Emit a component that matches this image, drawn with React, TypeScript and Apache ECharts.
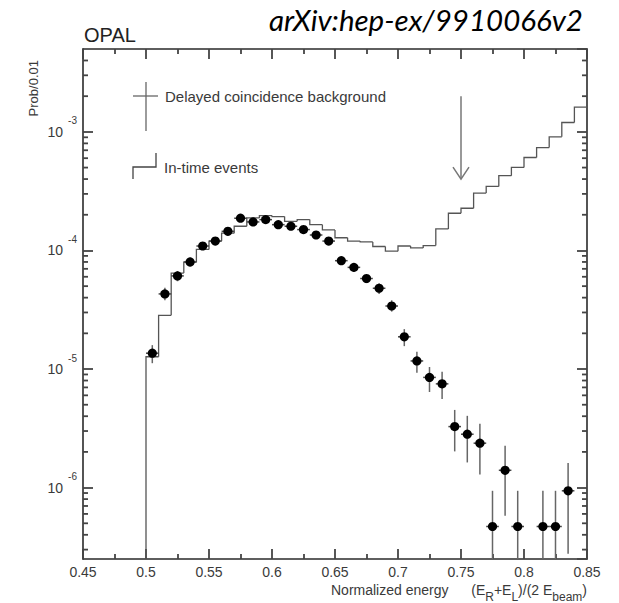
import React, { useEffect, useRef } from 'react';
import * as echarts from 'echarts';

// ---------- data ----------
// In-time events histogram: lower bin edges and contents (Prob/0.01)
const HIST_LOW_EDGES = [
  0.50, 0.51, 0.52, 0.53, 0.54, 0.55, 0.56, 0.57, 0.58, 0.59,
  0.60, 0.61, 0.62, 0.63, 0.64, 0.65, 0.66, 0.67, 0.68, 0.69,
  0.70, 0.71, 0.72, 0.73, 0.74, 0.75, 0.76, 0.77, 0.78, 0.79,
  0.80, 0.81, 0.82, 0.83, 0.84,
];
const HIST_VALUES = [
  1.27e-5, 2.84e-5, 6.44e-5, 7.97e-5, 1.02e-4, 1.20e-4, 1.40e-4, 1.60e-4, 1.88e-4, 1.97e-4,
  1.93e-4, 1.76e-4, 1.82e-4, 1.65e-4, 1.49e-4, 1.28e-4, 1.20e-4, 1.18e-4, 1.08e-4, 9.86e-5,
  1.09e-4, 1.05e-4, 1.10e-4, 1.52e-4, 2.06e-4, 2.27e-4, 3.05e-4, 3.47e-4, 4.27e-4, 5.01e-4,
  6.08e-4, 7.38e-4, 9.08e-4, 1.20e-3, 1.62e-3,
];
const BIN_WIDTH = 0.01;

// Delayed coincidence background: bin centres, values, error bar ends
const PT_X = [
  0.505, 0.515, 0.525, 0.535, 0.545, 0.555, 0.565, 0.575, 0.585, 0.595,
  0.605, 0.615, 0.625, 0.635, 0.645, 0.655, 0.665, 0.675, 0.685, 0.695,
  0.705, 0.715, 0.725, 0.735, 0.745, 0.755, 0.765, 0.775, 0.785, 0.795,
  0.815, 0.825, 0.835,
];
const PT_Y = [
  1.36e-5, 4.3e-5, 6.1e-5, 8.0e-5, 1.09e-4, 1.20e-4, 1.45e-4, 1.87e-4, 1.74e-4, 1.82e-4,
  1.65e-4, 1.60e-4, 1.50e-4, 1.35e-4, 1.20e-4, 8.2e-5, 7.2e-5, 5.8e-5, 4.8e-5, 3.4e-5,
  1.87e-5, 1.17e-5, 8.5e-6, 7.5e-6, 3.27e-6, 2.82e-6, 2.37e-6, 4.7e-7, 1.40e-6, 4.7e-7,
  4.7e-7, 4.7e-7, 9.4e-7,
];
const PT_ERR_LO = [
  1.12e-5, 3.8e-5, 5.5e-5, 7.3e-5, 1.01e-4, 1.12e-4, 1.36e-4, 1.77e-4, 1.65e-4, 1.73e-4,
  1.56e-4, 1.51e-4, 1.41e-4, 1.27e-4, 1.12e-4, 7.6e-5, 6.6e-5, 5.3e-5, 4.3e-5, 3.05e-5,
  1.56e-5, 9.3e-6, 6.4e-6, 5.6e-6, 2.02e-6, 1.63e-6, 1.29e-6, 0, 5.8e-7, 0,
  0, 0, 2.77e-7,
];
const PT_ERR_HI = [
  1.59e-5, 4.85e-5, 6.7e-5, 8.7e-5, 1.17e-4, 1.28e-4, 1.54e-4, 1.97e-4, 1.83e-4, 1.91e-4,
  1.74e-4, 1.69e-4, 1.59e-4, 1.43e-4, 1.28e-4, 8.8e-5, 7.8e-5, 6.3e-5, 5.3e-5, 3.8e-5,
  2.17e-5, 1.40e-5, 1.04e-5, 9.5e-6, 4.52e-6, 4.03e-6, 3.45e-6, 9.4e-7, 2.25e-6, 9.4e-7,
  9.4e-7, 9.4e-7, 1.61e-6,
];

// Arrow marking the cut (x, top, tip)
const ARROW = [[0.75, 2.0e-3, 4.0e-4]];

// Axis ranges / ticks
const X_MIN = 0.45;
const X_MAX = 0.85;
const X_INTERVAL = 0.05;
const Y_MIN = 2.5e-7;
const Y_MAX = 5e-3;
const MINOR_MULTIPLIERS = [2, 3, 4, 5, 6, 7, 8, 9];
const DECADES = [1e-7, 1e-6, 1e-5, 1e-4, 1e-3];

const LEGEND_TEXTS = ['Delayed coincidence background', 'In-time events'];
const Y_TITLE = 'Prob/0.01';

// ---------- styles ----------
const FONT = "'Liberation Sans', Arial, Helvetica, sans-serif";
const AXIS_COLOR = '#2a2a2a';
const TICK_COLOR = '#444444';
const TEXT_COLOR = '#3a3a3a';
const TICK_W = 1.8;

export default function App() {
  const ref = useRef<HTMLDivElement>(null);

  useEffect(() => {
    if (!ref.current) return;
    const chart = echarts.init(ref.current, undefined, { renderer: 'svg' });

    const minorY = DECADES.flatMap((d) => MINOR_MULTIPLIERS.map((m) => m * d)).filter(
      (v) => v > Y_MIN * 1.0001 && v < Y_MAX * 0.9999
    );

    const xAxisBase = (position: 'bottom' | 'top', showLabel: boolean) => ({
      type: 'value',
      position,
      min: X_MIN,
      max: X_MAX,
      interval: X_INTERVAL,
      axisLine: { show: true, onZero: false, lineStyle: { color: AXIS_COLOR, width: 1.6 } },
      axisTick: { show: true, inside: true, length: 10, lineStyle: { color: TICK_COLOR, width: TICK_W } },
      minorTick: { show: true, splitNumber: 2, length: 5, lineStyle: { color: TICK_COLOR, width: TICK_W } },
      splitLine: { show: false },
      minorSplitLine: { show: false },
      axisLabel: {
        show: showLabel,
        margin: 6,
        fontSize: 14,
        color: TEXT_COLOR,
        fontFamily: FONT,
      },
    });

    const yAxisBase = (position: 'left' | 'right', showLabel: boolean) => ({
      type: 'log',
      logBase: 10,
      position,
      min: Y_MIN,
      max: Y_MAX,
      axisLine: { show: true, onZero: false, lineStyle: { color: AXIS_COLOR, width: 1.6 } },
      axisTick: { show: true, inside: true, length: 10, lineStyle: { color: TICK_COLOR, width: TICK_W } },
      splitLine: { show: false },
      axisLabel: {
        show: showLabel,
        margin: 6,
        showMinLabel: false,
        showMaxLabel: false,
        formatter: (v: number) => {
          const e = Math.round(Math.log10(v));
          return `{b|10}{s|${e}}`;
        },
        rich: {
          b: { fontSize: 14, color: TEXT_COLOR, fontFamily: FONT },
          s: { fontSize: 10, color: TEXT_COLOR, fontFamily: FONT, padding: [0, 0, 22, 5] },
        },
      },
    });

    const option: any = {
      animation: false,
      backgroundColor: '#ffffff',
      grid: { left: 83, right: 32, top: 49, bottom: 44, containLabel: false, outerBoundsMode: 'none' },
      xAxis: [xAxisBase('bottom', true), xAxisBase('top', false)],
      yAxis: [yAxisBase('left', true), yAxisBase('right', false)],
      graphic: [
        // titles
        {
          type: 'text', left: 84, top: 25,
          style: { text: 'OPAL', fontSize: 20, fontFamily: FONT, fill: '#222' },
        },
        {
          type: 'text', x: 269, y: 19,
          style: {
            text: 'arXiv:hep-ex/9910066v2', fontSize: 29.5, fontStyle: 'italic', fontFamily: 'Lato, sans-serif',
            fill: '#000', align: 'left', verticalAlign: 'middle',
          },
        },
        // y title
        {
          type: 'text', x: 33, y: 60, rotation: Math.PI / 2,
          style: { text: Y_TITLE, fontSize: 13, fontFamily: FONT, fill: TEXT_COLOR, align: 'right', verticalAlign: 'middle' },
        },
        // x title
        {
          type: 'text', x: 331, y: 590,
          style: { text: 'Normalized energy', fontSize: 14, fontFamily: FONT, fill: TEXT_COLOR, align: 'left', verticalAlign: 'middle' },
        },
        {
          type: 'text', x: 587, y: 590,
          style: {
            text: '(E{sub|R}+E{sub|L})/(2 E{sub|beam})',
            fontSize: 14, fontFamily: FONT, fill: TEXT_COLOR, align: 'right', verticalAlign: 'middle',
            rich: { sub: { fontSize: 12, fontFamily: FONT, fill: TEXT_COLOR, padding: [13, 0, 0, 0] } },
          },
        },
        // legend: cross
        { type: 'line', shape: { x1: 146, y1: 82, x2: 146, y2: 131 }, style: { stroke: '#666', lineWidth: 1.3 } },
        { type: 'line', shape: { x1: 133, y1: 96, x2: 158, y2: 96 }, style: { stroke: '#666', lineWidth: 1.3 } },
        {
          type: 'text', x: 165, y: 96,
          style: { text: LEGEND_TEXTS[0], fontSize: 15, fontFamily: FONT, fill: TEXT_COLOR, align: 'left', verticalAlign: 'middle' },
        },
        // legend: step
        {
          type: 'polyline',
          shape: { points: [[133, 179], [133, 167], [156, 167], [156, 153]] },
          style: { stroke: '#444', lineWidth: 1.3, fill: null },
        },
        {
          type: 'text', x: 164, y: 167,
          style: { text: LEGEND_TEXTS[1], fontSize: 15, fontFamily: FONT, fill: TEXT_COLOR, align: 'left', verticalAlign: 'middle' },
        },
      ],
      series: [
        // minor log ticks on left and right
        {
          type: 'custom',
          xAxisIndex: 0,
          yAxisIndex: 0,
          silent: true,
          encode: { x: 0, y: 1 },
          data: minorY.map((v) => [X_MIN, v]),
          renderItem: (params: any, api: any) => {
            const cs = params.coordSys;
            const y = api.coord([X_MIN, api.value(1)])[1];
            const st = { stroke: TICK_COLOR, lineWidth: TICK_W };
            return {
              type: 'group',
              children: [
                { type: 'line', shape: { x1: cs.x, y1: y, x2: cs.x + 5, y2: y }, style: st },
                { type: 'line', shape: { x1: cs.x + cs.width - 5, y1: y, x2: cs.x + cs.width, y2: y }, style: st },
              ],
            };
          },
        },
        // in-time events histogram
        {
          type: 'custom',
          name: LEGEND_TEXTS[1],
          xAxisIndex: 0,
          yAxisIndex: 0,
          silent: true,
          encode: { x: 0, y: 1 },
          data: HIST_LOW_EDGES.map((x, i) => [x, HIST_VALUES[i]]),
          renderItem: (params: any, api: any) => {
            const i = params.dataIndex;
            const cs = params.coordSys;
            const bottom = cs.y + cs.height;
            const x0 = HIST_LOW_EDGES[i];
            const x1 = x0 + BIN_WIDTH;
            const v = HIST_VALUES[i];
            const p0 = api.coord([x0, v]);
            const p1 = api.coord([x1, v]);
            const yPrev = i > 0 ? api.coord([x0, HIST_VALUES[i - 1]])[1] : bottom;
            return {
              type: 'polyline',
              shape: { points: [[p0[0], yPrev], p0, p1] },
              style: { stroke: '#555', lineWidth: 1.3, fill: null },
            };
          },
        },
        // delayed coincidence points
        {
          type: 'custom',
          name: LEGEND_TEXTS[0],
          xAxisIndex: 0,
          yAxisIndex: 0,
          silent: true,
          encode: { x: 0, y: 1 },
          data: PT_X.map((x, i) => [x, PT_Y[i]]),
          renderItem: (params: any, api: any) => {
            const i = params.dataIndex;
            const cs = params.coordSys;
            const bottom = cs.y + cs.height;
            const x = PT_X[i];
            const v = PT_Y[i];
            const [px, py] = api.coord([x, v]);
            const lo = PT_ERR_LO[i];
            const hi = PT_ERR_HI[i];
            const yLo = lo > 0 ? Math.min(api.coord([x, lo])[1], bottom) : bottom;
            const yHi = api.coord([x, hi])[1];
            const xl = api.coord([x - BIN_WIDTH / 2, v])[0];
            const xr = api.coord([x + BIN_WIDTH / 2, v])[0];
            return {
              type: 'group',
              children: [
                { type: 'line', shape: { x1: px, y1: yLo, x2: px, y2: yHi }, style: { stroke: '#666', lineWidth: 1.5 } },
                { type: 'line', shape: { x1: xl, y1: py, x2: xr, y2: py }, style: { stroke: '#444', lineWidth: 1.5 } },
                { type: 'circle', shape: { cx: px, cy: py, r: 4.6 }, style: { fill: '#000' } },
              ],
            };
          },
        },
        // arrow
        {
          type: 'custom',
          xAxisIndex: 0,
          yAxisIndex: 0,
          silent: true,
          encode: { x: 0, y: 1 },
          data: ARROW,
          renderItem: (params: any, api: any) => {
            const top = api.coord([api.value(0), api.value(1)]);
            const tip = api.coord([api.value(0), api.value(2)]);
            const st = { stroke: '#777', lineWidth: 1.5, fill: null };
            return {
              type: 'group',
              children: [
                { type: 'line', shape: { x1: top[0], y1: top[1], x2: tip[0], y2: tip[1] }, style: st },
                {
                  type: 'polyline',
                  shape: { points: [[tip[0] - 8, tip[1] - 12], tip, [tip[0] + 8, tip[1] - 12]] },
                  style: st,
                },
              ],
            };
          },
        },
      ],
    };

    chart.setOption(option);
    return () => chart.dispose();
  }, []);

  return (
    <div
      ref={ref}
      style={{ position: 'absolute', left: 0, top: 0, width: 619, height: 603, background: '#fff' }}
    />
  );
}
